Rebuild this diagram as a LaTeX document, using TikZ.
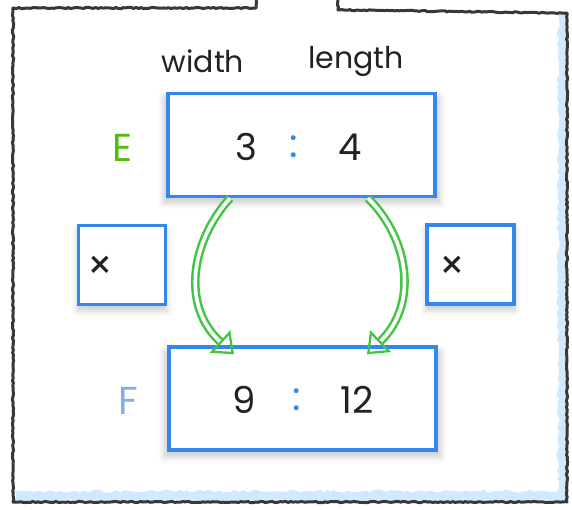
\documentclass[tikz,border=0pt]{standalone}
\usepackage{fontspec}
\setmainfont{Poppins}
\usetikzlibrary{arrows.meta,decorations.pathmorphing,shadows.blur}
\definecolor{boxblue}{HTML}{3388EE}
\definecolor{arrowgreen}{HTML}{44C444}
\definecolor{egreen}{HTML}{55BB11}
\definecolor{fblue}{HTML}{88AAEE}
\definecolor{washblue}{HTML}{D2E8FF}
\definecolor{ink}{HTML}{222222}
\tikzset{
  sketch/.style={draw=ink!90, line width=3pt, line join=round,
    decorate, decoration={random steps, segment length=2.5pt, amplitude=0.6pt}},
  wash/.style={fill=washblue, decorate,
    decoration={random steps, segment length=4pt, amplitude=1.6pt}},
  cardshadow/.style={blur shadow={shadow xshift=0pt, shadow yshift=-5pt,
    shadow blur radius=5pt, shadow opacity=18, shadow scale=1.04}},
  ratiobox/.style={draw=boxblue, line width=3.4pt, fill=white, cardshadow,
    minimum width=267pt, minimum height=103pt, inner sep=0pt},
  opbox/.style={draw=boxblue, line width=3.2pt, fill=white, cardshadow,
    minimum width=87pt, minimum height=79pt, inner sep=0pt},
  label/.style={font=\fontsize{30}{30}\selectfont, text=ink, inner sep=0pt},
  digit/.style={font=\fontsize{37}{37}\selectfont, text=ink, inner sep=0pt},
  colon/.style={font=\fontsize{40}{40}\selectfont, text=boxblue, inner sep=0pt},
  letter/.style={font=\fontsize{39}{39}\selectfont, inner sep=0pt},
  times/.style={font=\fontsize{40}{40}\selectfont, text=ink, inner sep=0pt},
  flow/.style={draw=arrowgreen, line width=2.5pt, double=white, double distance=3.6pt,
    -{Triangle[open, length=19pt, width=30pt, line width=2.3pt]}},
}
\begin{document}
\begin{tikzpicture}[x=1pt, y=-1pt]
\useasboundingbox (0,0) rectangle (572,509);

% light blue wash inside the lower and right edges of the frame
\fill[wash] (558,14) -- (566,14) -- (566,501) -- (15,501) -- (15,491) -- (558,491) -- cycle;

% hand-drawn frame, open at the top
\draw[sketch] (256,0) -- (256,8) -- (13,8) -- (13,502) -- (567,502) -- (567,13) -- (338,10) -- (338,0);

% headings
\node[label] (w) at (203,61) {width};
\node[label] (l) at (356,61) {length};

% ratio boxes
\node[ratiobox] (E) at (301.5,145) {};
\node[ratiobox] (F) at (302.5,398.5) {};

% multiplier boxes
\node[opbox] (ml) at (122,265) {};
\node[opbox] (mr) at (470.5,264.5) {};
\node[times] (tl) at (100,268) {×};
\node[times] (tr) at (452,268) {×};

% row letters
\node[letter, text=egreen] (le) at (123,148) {E};
\node[letter, text=fblue] (lf) at (128,401) {F};

% ratio entries
\node[digit] (e1) at (246,147) {3};
\node[colon] (e2) at (294,147) {:};
\node[digit] (e3) at (350,147) {4};
\node[digit] (f1) at (244,400) {9};
\node[colon] (f2) at (297,400) {:};
\node[digit] (f3) at (357,400) {12};

% scaling arrows, bulging outwards
\draw[flow] ([xshift=-71.5pt]E.south) .. controls (192,240) and (180,305) .. ([xshift=-68.5pt, yshift=-9pt]F.north);
\draw[flow] ([xshift=66.5pt]E.south) .. controls (410,240) and (418,305) .. ([xshift=64.5pt, yshift=-9pt]F.north);
\end{tikzpicture}
\end{document}
